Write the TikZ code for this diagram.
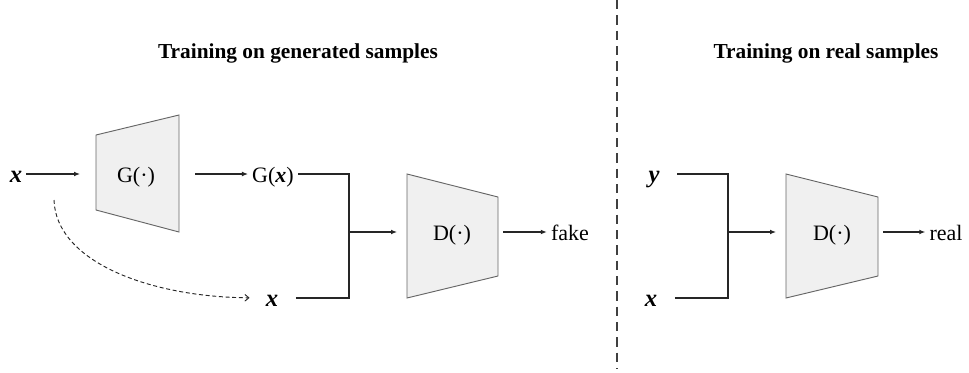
\documentclass[tikz,border=0pt]{standalone}
\usepackage{fontspec}
\setmainfont{Liberation Serif}
\usetikzlibrary{arrows.meta}
\begin{document}
\begin{tikzpicture}[x=0.75pt,y=-0.75pt]
\tikzset{
  lbl/.style={inner sep=3pt, text height=12pt, text depth=0pt, font=\fontsize{16.5}{20}\selectfont},
  var/.style={lbl, font=\fontsize{18.5}{22}\selectfont\bfseries\itshape},
  ttl/.style={inner sep=0pt, font=\fontsize{16}{19}\selectfont\bfseries},
  conn/.style={draw=black!85, line width=0.8pt},
  arr/.style={conn, -{Latex[length=4.5pt,width=3.6pt]}},
  darr/.style={draw=black!85, line width=0.7pt, dash pattern=on 3pt off 2pt, -{Straight Barb[length=3pt,width=5pt]}},
  trap/.style={draw=black!60, fill=black!6, line width=0.7pt},
  divider/.style={draw=black!75, line width=0.9pt, dash pattern=on 7pt off 4.5pt},
}
\useasboundingbox (0,0) rectangle (969,372);

% titles
\node[ttl] (t1) at (298,53) {Training on generated samples};
\node[ttl] (t2) at (826,53) {Training on real samples};

% divider
\coordinate (vtop) at (617,0);
\coordinate (vbot) at (617,369);
\draw[divider] (vtop) -- (vbot);

% generator
\draw[trap] (96,135) -- (179,115) -- (179,232) -- (96,210) -- cycle;
\node[lbl] (G) at (136,174) {G(·)};
\coordinate (Gl) at (96,174);
\coordinate (Gr) at (179,174);

% discriminator (left)
\draw[trap] (407,174) -- (498,197) -- (498,276) -- (407,298) -- cycle;
\node[lbl] (D) at (452,232) {D(·)};
\coordinate (Dl) at (407,232);
\coordinate (Dr) at (498,232);

% discriminator (right)
\draw[trap] (786,174) -- (878,197) -- (878,276) -- (786,298) -- cycle;
\node[lbl] (D2) at (832,232) {D(·)};
\coordinate (D2l) at (786,232);
\coordinate (D2r) at (878,232);

% left texts
\node[var] (x1) at (16,174) {x};
\node[lbl] (Gx) at (273,174) {G(\textbf{\textit{x}})};
\node[var] (x2) at (272,298) {x};
\node[lbl] (fake) at (570,232) {fake};
\coordinate (J) at (349,232);
\coordinate (cs) at (54,200);

% right texts
\node[var] (y) at (654,174) {y};
\node[var] (x3) at (651,298) {x};
\node[lbl] (real) at (946,232) {real};
\coordinate (J2) at (728,232);

% left connectors
\draw[arr, shorten >=12pt] (x1) -- (Gl);
\draw[arr, shorten <=12pt] (Gr) -- (Gx);
\draw[conn] (Gx) -| (J);
\draw[conn, shorten <=10pt] (x2) -| (J);
\draw[arr, shorten >=7.5pt] (J) -- (Dl);
\draw[arr, shorten <=3.75pt] (Dr) -- (fake);
\draw[darr, shorten >=9pt] (cs) .. controls (56,262) and (150,297) .. (x2);

% right connectors
\draw[conn, shorten <=10pt] (y) -| (J2);
\draw[conn, shorten <=10pt] (x3) -| (J2);
\draw[arr, shorten >=7.5pt] (J2) -- (D2l);
\draw[arr, shorten <=3.75pt] (D2r) -- (real);
\end{tikzpicture}
\end{document}
